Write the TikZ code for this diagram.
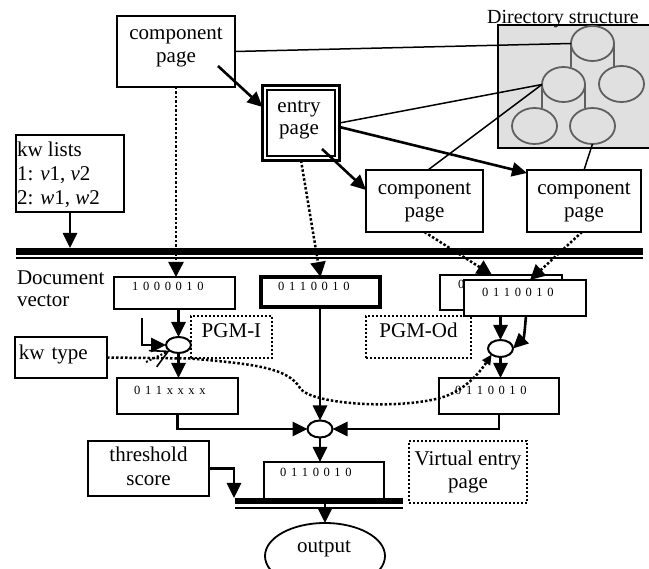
\documentclass[tikz,border=0pt]{standalone}
\usepackage{fontspec}
\setmainfont{Liberation Serif}
\usetikzlibrary{arrows.meta,calc,shapes.geometric}
\definecolor{dirgray}{RGB}{224,224,224}
\definecolor{treegray}{RGB}{95,95,95}
% strut giving every text line the same height and depth
\newcommand\sline{\rule[-5pt]{0pt}{20pt}}
% bit vectors are set with wide letter spacing
\makeatletter
\newcommand\bits[1]{\@tfor\bitdig:=#1\do{\bitdig\kern4.6pt}\unkern}
\makeatother

\begin{document}
\begin{tikzpicture}[x=1pt, y=-1pt,
  txt/.style={font=\fontsize{21}{23.5}\selectfont, inner sep=0pt, outer sep=0pt, align=center},
  pagebox/.style={draw, line width=2pt, fill=white, inner sep=0pt, outer sep=0pt, txt},
  vecbox/.style={draw, line width=2pt, fill=white, inner sep=0pt, outer sep=0pt},
  bit/.style={font=\fontsize{12.5}{14}\selectfont, inner sep=0pt, anchor=base west},
  dotbox/.style={draw, dotted, line width=2pt, inner sep=0pt, outer sep=0pt, txt},
  pgm/.style={dotbox, text height=13.9pt, text depth=11.9pt},
  op/.style={draw, ellipse, line width=2pt, fill=white, inner sep=0pt, outer sep=0pt},
  leaf/.style={draw=treegray, ellipse, line width=1.8pt, inner sep=0pt, outer sep=0pt},
  flow/.style={line width=2.6pt, -{Triangle[length=15pt,width=14pt]}},
  dotflow/.style={dotted, line width=2.5pt, -{Triangle[length=15pt,width=15pt]}},
  link/.style={line width=1.5pt},
]
\useasboundingbox (0,0) rectangle (649,569);

% ---------- directory structure ----------
\node[draw, line width=1.5pt, fill=dirgray, anchor=north west, minimum width=156pt,
      minimum height=123pt, inner sep=0pt, outer sep=0pt] (dir) at (498,25) {};
\node[font=\fontsize{20}{24}\selectfont, inner sep=0pt, anchor=base west] (dirT) at (487,24) {Directory structure};
\node[leaf, minimum width=43pt, minimum height=35pt] (dTop) at (592.5,43.5) {};
\node[leaf, minimum width=43pt, minimum height=35pt] (dMid) at (563.5,84.5) {};
\node[leaf, minimum width=45pt, minimum height=36pt] (dRight) at (621.5,84) {};
\node[leaf, minimum width=45pt, minimum height=36pt] (dBL) at (534.5,126) {};
\node[leaf, minimum width=45pt, minimum height=36pt] (dBM) at (592.5,126) {};
\draw[treegray, line width=1.8pt] (dTop.west) -- (dTop.west |- dMid.north);
\draw[treegray, line width=1.8pt] (dTop.east) -- (dTop.east |- dRight.north);
\draw[treegray, line width=1.8pt] (dMid.west) -- (dMid.west |- dBL.north);
\draw[treegray, line width=1.8pt] (dMid.east) -- (dMid.east |- dBM.north);

% ---------- pages ----------
\node[pagebox, minimum width=118pt, minimum height=71pt] (cpTop) at (176,51.5) {};
\node[txt] (cpTopT) at (176,46) {component\sline\\page\sline};
\node[draw, line width=3pt, fill=white, minimum width=77pt, minimum height=75pt,
      inner sep=0pt, outer sep=0pt] (entry) at (301,123) {};
\node[draw, line width=2.5pt, minimum width=68pt, minimum height=66pt,
      inner sep=0pt, outer sep=0pt] (entryIn) at (301,123) {};
\node[txt, font=\fontsize{21}{22}\selectfont] (entryT) at (299,119) {entry\sline\\page\sline};
\node[pagebox, minimum width=117pt, minimum height=62pt] (cpL) at (424.5,201) {component\sline\\page\sline};
\node[pagebox, minimum width=114pt, minimum height=62pt] (cpR) at (584,201) {component\sline\\page\sline};

\draw[flow] ($(cpTop.center)+(42,14.5)$) -- ($(entry.west)+(0,-16)$);
\draw[flow] ($(entry.center)+(21,26)$) -- ($(cpL.west)+(0,-11)$);
\draw[flow] ($(entry.east)+(0,4)$) -- ($(cpR.west)+(0,-28)$);

\draw[link] (cpTop.east) -- (dTop.west);
\draw[link] (entry.east) -- (dMid.west);
\draw[link] ($(cpL.north)+(3.5,0)$) -- (dMid.west);
\draw[link] (cpR.north) -- (dBM.south);

% ---------- keyword lists and the input bar ----------
\node[pagebox, minimum width=108pt, minimum height=77pt] (kw) at (70,173.5) {};
\node[txt, font=\fontsize{21}{24}\selectfont, align=left, anchor=west] (kwT) at (17,176)
  {kw lists\sline\\1: \textit{v}1, \textit{v}2\sline\\2: \textit{w}1, \textit{w}2\sline};

\coordinate (b1L) at (16,251.5);
\coordinate (b1R) at (643,251.5);
\coordinate (b1Top) at (16,248);
\draw[line width=7pt] (b1L) -- (b1R);
\draw[line width=1.5pt] ($(b1L)+(0,6.5)$) -- ($(b1R)+(0,6.5)$);
\draw[flow] (kw.south) -- (kw.south |- b1Top);

\node[txt, font=\fontsize{21}{22}\selectfont, align=left, anchor=west] (docv) at (17,291)
  {Document\sline\\vector\sline};

% ---------- document vectors ----------
\node[vecbox, minimum width=121pt, minimum height=32pt] (v1) at (174.5,293) {};
\node[bit] (v1T) at (132,291) {\bits{1000010}};
\node[vecbox, line width=4pt, minimum width=119pt, minimum height=30pt] (v2) at (320.5,292) {};
\node[bit] (v2T) at (278,291) {\bits{0110010}};
\node[vecbox, minimum width=122pt, minimum height=35pt] (v3b) at (501,292.5) {};
\node[bit] (v3bT) at (458,289) {0};
\node[vecbox, minimum width=122pt, minimum height=36pt] (v3f) at (525,298) {};
\node[bit] (v3fT) at (482,297) {\bits{0110010}};

\draw[dotflow] (cpTop.south) -- (cpTop.south |- v1.north);
\draw[dotflow] (entry.south) -- (v2.north);
\draw[dotflow] (cpL.south) -- ($(v3b.north)+(-9,0)$);
\draw[dotflow] ($(cpR.south)+(-2,0)$) -- ($(v3f.north)+(5,0)$);

% ---------- operators ----------
\node[pgm, minimum width=81pt, minimum height=42pt] (pgmI) at (231.5,337) {PGM-I};
\node[pgm, minimum width=105pt, minimum height=42pt] (pgmO) at (418.5,337) {PGM-Od};
\node[pagebox, minimum width=92pt, minimum height=41pt, text width=84pt, align=left,
      inner xsep=4pt, text height=14.3pt, text depth=9.3pt] (kwt) at (61,357.5) {kw type};

\node[op, minimum width=25pt, minimum height=16pt] (e1) at (178.5,345) {};
\node[op, minimum width=25pt, minimum height=17pt] (e2) at (500.5,348.5) {};
\node[op, minimum width=25pt, minimum height=17pt] (e3) at (320,429) {};

\node[vecbox, minimum width=121pt, minimum height=36pt] (b1) at (177.5,396) {};
\node[bit] (b1T) at (134,395) {\bits{011xxxx}};
\node[vecbox, minimum width=120pt, minimum height=36pt] (b2) at (499,396) {};
\node[bit] (b2T) at (455,395) {\bits{0110010}};

\coordinate (docIn) at (142,318);
\draw[flow] (e1.north |- v1.south) -- (e1.north);
\draw[flow] (docIn) |- (e1.west);
\draw[flow] (e1.south) -- (e1.south |- b1.north);
\draw[flow] (e3.north |- v2.south) -- (e3.north);
\draw[flow] (b1.south) |- (e3.west);
\draw[flow] (b2.south) |- (e3.east);
\draw[flow] (e2.north |- v3f.south) -- (e2.north);
\draw[flow] ($(v3f.south)+(1,0)$) .. controls (524,338) .. (e2.east);
\draw[flow] (e2.south) -- (e2.south |- b2.north);

% keyword type feeds both operators
\draw[dotted, line width=2.5pt, -{Triangle[length=10pt,width=9pt]}]
  (kwt.east) -- (190,358.5) .. controls (255,364) and (288,368) .. (300,388)
  .. controls (310,404) and (395,410) .. (440,398)
  .. controls (465,391) and (480,372) .. (e2.south west);
\draw[dotted, line width=2pt, -{Straight Barb[length=17pt,width=18pt,line width=1.6pt]}]
  (146,362) -- (e1.south west);

% ---------- output stage ----------
\node[pagebox, minimum width=121pt, minimum height=55pt] (thr) at (148.5,468.5) {threshold\sline\\score\sline};
\node[dotbox, minimum width=118pt, minimum height=62pt] (virt) at (468,472) {Virtual entry\sline\\page\sline};
\node[vecbox, minimum width=120pt, minimum height=38pt] (ob) at (324,481) {};
\node[bit] (obT) at (280,477) {\bits{0110010}};

\coordinate (b2L) at (235,501);
\coordinate (b2R) at (403,501);
\coordinate (b2Top) at (234,498);
\draw[line width=6pt] (b2L) -- (b2R);
\draw[line width=1.5pt] ($(b2L)+(0,7)$) -- ($(b2R)+(0,7)$);

\node[draw, ellipse, line width=1.8pt, minimum width=120pt, minimum height=66pt,
      inner sep=0pt, outer sep=0pt] (outp) at (325,556) {};
\node[txt, anchor=base] (outT) at (324,553) {output};

\draw[flow] (e3.south) -- (e3.south |- ob.north);
\draw[flow] (thr.east) -| (b2Top);
\draw[flow] (outp.north |- b2L) -- (outp.north);
\end{tikzpicture}
\end{document}
